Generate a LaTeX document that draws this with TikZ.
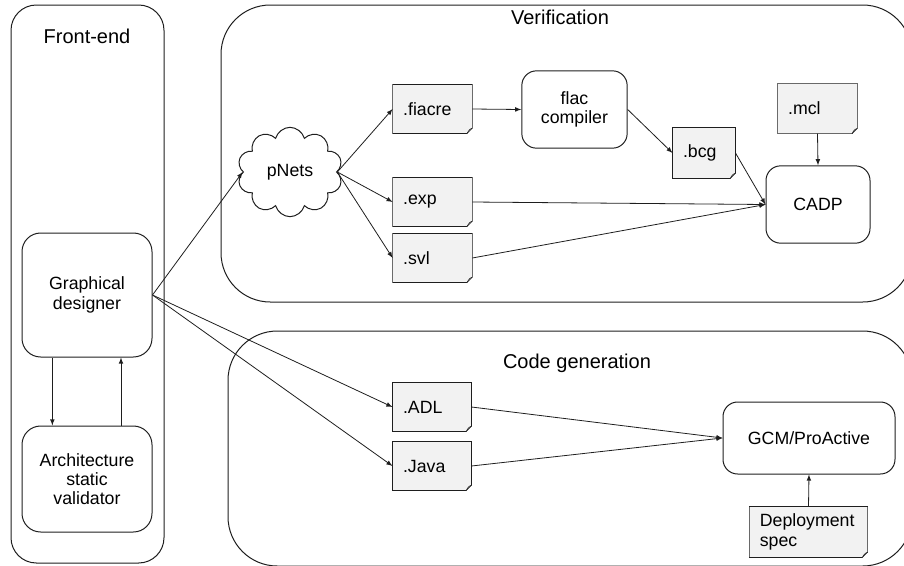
\documentclass[tikz,border=0pt]{standalone}
\usepackage{fontspec}
\setmainfont{Liberation Sans}
\usetikzlibrary{shapes.symbols,arrows,backgrounds}
\definecolor{docfill}{HTML}{F2F2F2}
\definecolor{linegray}{HTML}{1E1E1E}
\tikzset{
  area/.style={draw=linegray, rounded corners=37pt},
  areatitle/.style={font=\fontsize{15}{17}\selectfont},
  box/.style={draw=linegray, rounded corners=11pt, align=center, font=\fontsize{13.3}{14.5}\selectfont},
  doc/.style={inner xsep=7.5pt, inner ysep=0pt, minimum height=36pt, align=left, font=\fontsize{13.3}{14.5}\selectfont},
  flow/.style={-latex, draw=linegray, line width=0.6pt}
}
\begin{document}
\begin{tikzpicture}[x=0.75pt, y=-0.75pt, line width=0.75pt]
    \useasboundingbox (0,0) rectangle (904,565);
    \clip (0,0) rectangle (904,565);
    \draw[area, rounded corners=19pt] (11,5) rectangle (164,563);
    \draw[area] (221,5) rectangle (912,302);
    \draw[area] (228,331) rectangle (912,566);
    \node[areatitle] (frontend) at (87,36) {Front-end};
    \node[areatitle] (verif) at (560,17) {Verification};
    \node[areatitle] (codegen) at (577,363) {Code generation};
    \node[box, rounded corners=14pt, minimum width=97.5pt, minimum height=93pt] (gd) at (87,295) {Graphical\\designer};
    \node[box, rounded corners=14pt, minimum width=97.5pt, minimum height=79.5pt] (asv) at (87,479) {Architecture\\static\\validator};
    \node[cloud, cloud puffs=10, cloud ignores aspect, draw=linegray, minimum width=79pt, minimum height=67pt, font=\fontsize{13.3}{14.5}\selectfont] (pnets) at (290,172) {pNets};
    \node[doc, text width=44pt] (fiacre) at (432.5,109) {.fiacre};
    \node[doc, text width=44pt] (exp) at (432.5,202) {.exp};
    \node[doc, text width=44pt] (svl) at (432.5,258) {.svl};
    \node[box, minimum width=79pt, minimum height=58pt] (flac) at (574.5,109.5) {flac\\compiler};
    \node[doc, text width=31.5pt, minimum height=37.5pt] (bcg) at (704,153) {.bcg};
    \node[doc, text width=44pt, minimum height=37pt] (mcl) at (817.5,108.5) {.mcl};
    \node[box, minimum width=78pt, minimum height=58pt] (cadp) at (818,204.5) {CADP};
    \node[doc, text width=43.5pt] (adl) at (432,407) {.ADL};
    \node[doc, text width=43.5pt] (java) at (432,466) {.Java};
    \node[box, minimum width=129pt, minimum height=54pt] (gcm) at (809,438) {GCM/ProActive};
    \node[doc, text width=73pt, minimum height=37.5pt] (dep) at (808.5,532) {Deployment\\spec};
    \begin{scope}[on background layer]
        \foreach \d in {fiacre,exp,svl,bcg,mcl,adl,java,dep}{
            \filldraw[draw=linegray, fill=docfill] (\d.north west) -- (\d.north east) -- ([yshift=4pt]\d.south east) -- ([xshift=-4pt]\d.south east) -- (\d.south west) -- cycle;
            \draw[linegray, line width=0.5pt] ([xshift=-4pt]\d.south east) .. controls ([shift={(-3pt,1pt)}]\d.south east) and ([shift={(-3pt,3pt)}]\d.south east) .. ([yshift=4pt]\d.south east);
        }
    \end{scope}
    \draw[flow] ([xshift=-26pt]gd.south) -- ([xshift=-26pt]asv.north);
    \draw[flow] ([xshift=25.5pt]asv.north) -- ([xshift=25.5pt]gd.south);
    \draw[flow] (gd.east) -- (pnets.west);
    \draw[flow] (gd.east) -- (adl.west);
    \draw[flow] (gd.east) -- (java.west);
    \draw[flow] (pnets.east) -- (fiacre.west);
    \draw[flow] (pnets.east) -- (exp.west);
    \draw[flow] (pnets.east) -- (svl.west);
    \draw[flow] (fiacre.east) -- (flac.west);
    \draw[flow] (flac.east) -- (bcg.west);
    \draw[flow] (bcg.east) -- (cadp.west);
    \draw[flow] (exp.east) -- (cadp.west);
    \draw[flow] (svl.east) -- (cadp.west);
    \draw[flow] (mcl.south) -- (cadp.north);
    \draw[flow] (adl.east) -- (gcm.west);
    \draw[flow] (java.east) -- (gcm.west);
    \draw[flow] (dep.north) -- (gcm.south);
\end{tikzpicture}
\end{document}
